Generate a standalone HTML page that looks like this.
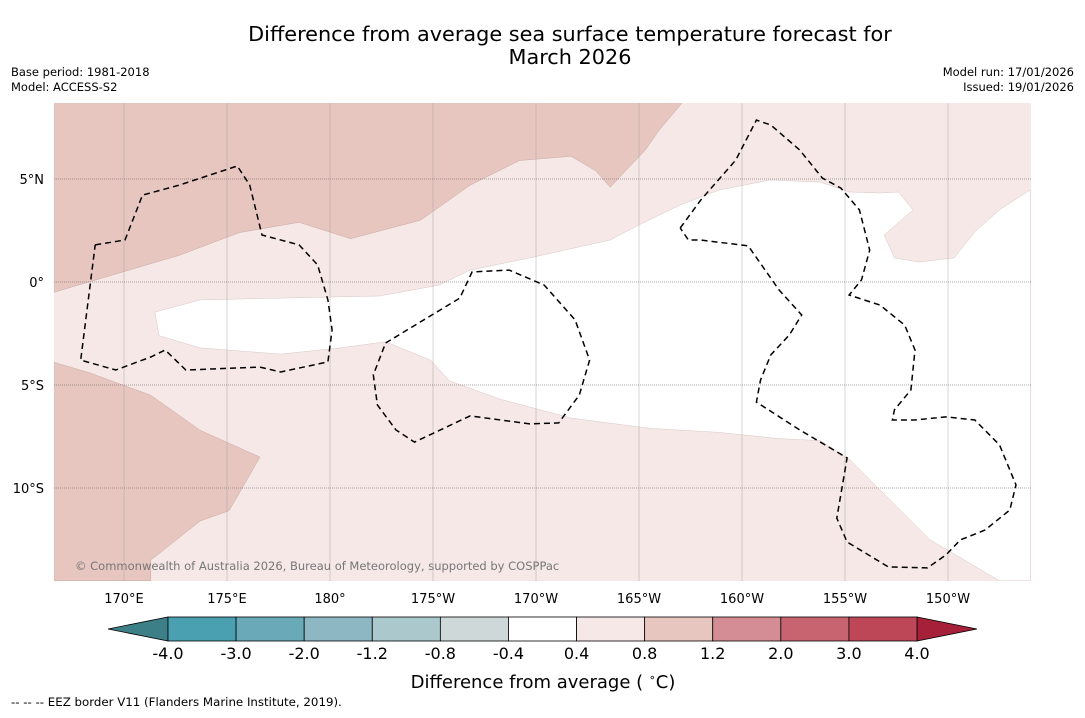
<!DOCTYPE html>
<html><head><meta charset="utf-8"><style>
body{margin:0;background:#fff;width:1085px;height:713px;overflow:hidden;font-family:"Liberation Sans",sans-serif}
svg text{font-family:"DejaVu Sans","Liberation Sans",sans-serif}
</style></head><body>
<svg id="chart" width="1085" height="713" xmlns="http://www.w3.org/2000/svg">
<text x="570" y="41" font-size="20.8" text-anchor="middle">Difference from average sea surface temperature forecast for</text>
<text x="570" y="64" font-size="20.8" text-anchor="middle">March 2026</text>
<text x="11" y="76" font-size="11.5">Base period: 1981-2018</text>
<text x="11" y="91" font-size="11.5">Model: ACCESS-S2</text>
<text x="1074" y="76" font-size="11.5" text-anchor="end">Model run: 17/01/2026</text>
<text x="1074" y="91" font-size="11.5" text-anchor="end">Issued: 19/01/2026</text>
<defs><clipPath id="mc"><rect x="54" y="103" width="977" height="478"/></clipPath></defs>
<g id="map" clip-path="url(#mc)"></g>
<g id="axes"></g>
<g id="cbar"></g>
<text x="543" y="688" font-size="18" text-anchor="middle">Difference from average ( <tspan font-size="11" dy="-7">∘</tspan><tspan dy="7">C)</tspan></text>
<text x="11" y="706" font-size="11.8">--  --  -- EEZ border V11 (Flanders Marine Institute, 2019).</text>
</svg>
<script>
// Colour-scale data
const levels = [-4.0,-3.0,-2.0,-1.2,-0.8,-0.4,0.4,0.8,1.2,2.0,3.0,4.0];
const levelColors = ["#4aa0b0","#6aaab8","#8db8c3","#abc8cc","#cfd8d9","#ffffff","#f5e8e6","#e8c6c0","#d48d94","#c76470","#bd4756"];
const underColor = "#3d7f87", overColor = "#a6203a";
// Axis ticks
const lonTicks = [170,175,180,185,190,195,200,205,210];
const lonLabels = ["170°E","175°E","180°","175°W","170°W","165°W","160°W","155°W","150°W"];
const latTicks = [5,0,-5,-10];
const latLabels = ["5°N","0°","5°S","10°S"];
// Anomaly regions [lon,lat]
const regionNorthWarm = [[166.6,8.7],[197.1,8.7],[196.0,7.4],[195.3,6.4],[193.6,4.6],[192.9,5.4],[191.7,6.1],[189.2,5.9],[186.8,4.7],[184.4,3.0],[181.0,2.1],[178.5,2.9],[175.6,2.4],[172.7,1.3],[166.6,-0.5]];
const regionSouthWarm = [[166.6,-3.9],[168.3,-4.4],[171.3,-5.5],[173.7,-7.2],[176.6,-8.5],[175.1,-11.1],[173.7,-11.6],[171.3,-13.5],[171.3,-14.5],[166.6,-14.5]];
const regionNeutral = [[171.5,-1.46],[173.7,-0.87],[177.6,-0.78],[182.4,-0.68],[185.3,-0.15],[186.8,0.58],[189.7,1.17],[193.6,2.04],[195.0,2.77],[197.0,3.74],[198.9,4.47],[201.4,4.95],[203.8,4.85],[205.2,4.37],[206.7,4.32],[207.6,4.37],[208.3,3.5],[206.9,2.28],[207.4,1.17],[208.6,0.97],[210.3,1.17],[211.3,2.43],[212.5,3.5],[214.0,4.47],[214.0,-14.5],[212.5,-14.5],[209.1,-12.5],[206.7,-10.1],[205.2,-8.6],[203.8,-7.7],[201.8,-7.6],[198.9,-7.3],[195.5,-7.1],[191.7,-6.6],[188.3,-5.7],[185.8,-4.8],[184.9,-3.8],[182.7,-2.9],[180.5,-3.2],[177.6,-3.5],[173.7,-3.2],[171.7,-2.6]];
// EEZ borders
const eezTuvalu = [[168.6,1.8],[170.05,2.04],[170.9,4.22],[172.7,4.71],[175.5,5.63],[176.1,4.71],[176.7,2.28],[178.5,1.8],[179.4,0.83],[179.9,-0.87],[180.1,-2.33],[179.9,-3.88],[177.6,-4.37],[176.6,-4.13],[173.0,-4.27],[172.0,-3.3],[171.3,-3.64],[169.6,-4.27],[167.9,-3.79],[168.6,1.8]];
const eezPhoenix = [[182.7,-2.96],[186.3,-0.78],[186.9,0.49],[188.7,0.58],[190.4,-0.15],[191.9,-1.84],[192.6,-3.79],[192.1,-5.49],[191.1,-6.84],[189.7,-6.89],[186.8,-6.5],[184.1,-7.77],[183.2,-7.18],[182.3,-5.97],[182.1,-4.51],[182.7,-2.96]];
const eezLine = [[197.0,2.62],[198.0,3.98],[199.7,5.92],[200.7,7.86],[201.4,7.62],[202.8,6.41],[203.9,5.05],[204.8,4.56],[205.7,3.5],[206.2,1.55],[205.8,0.1],[205.2,-0.63],[206.7,-1.12],[207.9,-2.09],[208.4,-3.3],[208.2,-5.24],[207.4,-6.21],[207.3,-6.7],[208.4,-6.7],[209.9,-6.55],[211.3,-6.7],[212.5,-7.91],[213.3,-9.85],[213.0,-11.07],[211.8,-12.04],[210.6,-12.52],[209.9,-13.25],[209.0,-13.88],[207.1,-13.83],[205.1,-12.62],[204.6,-11.46],[205.1,-8.54],[202.8,-7.18],[200.7,-5.83],[200.9,-4.76],[201.4,-3.54],[202.3,-2.57],[202.9,-1.6],[201.8,-0.39],[200.3,1.75],[198.0,2.04],[197.4,2.04],[197.0,2.62]];

const NS="http://www.w3.org/2000/svg";
const X = lon => 124 + (lon-170)*20.6;
const Y = lat => 282 - lat*20.6;
const pts = a => a.map(p=>X(p[0]).toFixed(1)+","+Y(p[1]).toFixed(1)).join(" ");
function mk(tag, attrs, parent){const e=document.createElementNS(NS,tag);for(const k in attrs)e.setAttribute(k,attrs[k]);parent.appendChild(e);return e;}
const map=document.getElementById('map');
let e;
e=mk('rect',{x:54,y:103,width:977,height:478,fill:levelColors[6]},map);


e=mk('polygon',{points:pts(regionNorthWarm),fill:levelColors[7],stroke:"#c9a9a4","stroke-width":0.5},map);


e=mk('polygon',{points:pts(regionSouthWarm),fill:levelColors[7],stroke:"#c9a9a4","stroke-width":0.5},map);


e=mk('polygon',{points:pts(regionNeutral),fill:levelColors[5],stroke:"#d8c8c6","stroke-width":0.5},map);


lonTicks.forEach((l,i)=>{
  e=mk('line',{x1:X(l),x2:X(l),y1:103,y2:581,stroke:"#999","stroke-width":0.4},map);
  
  
});
latTicks.forEach(l=>{
  e=mk('line',{x1:54,x2:1031,y1:Y(l),y2:Y(l),stroke:"#555","stroke-width":0.6,"stroke-dasharray":"1,1"},map);
  
  
});
[eezTuvalu,eezPhoenix,eezLine].forEach(a=>{
  e=mk('polyline',{points:pts(a),fill:"none",stroke:"#000","stroke-width":1.5,"stroke-dasharray":"6,4"},map);
  
  
});
e=mk('text',{x:75,y:570,"font-size":11.5,fill:"#777"},map);
e.textContent="© Commonwealth of Australia 2026, Bureau of Meteorology, supported by COSPPac";


const axes=document.getElementById('axes');
lonTicks.forEach((l,i)=>{
  e=mk('text',{x:X(l),y:603,"font-size":13,"text-anchor":"middle"},axes);
  e.textContent=lonLabels[i];
  
  
});
latTicks.forEach((l,i)=>{
  e=mk('text',{x:44,y:Y(l)+5,"font-size":13,"text-anchor":"end"},axes);
  e.textContent=latLabels[i];
  
  
});
// colourbar
const cb=document.getElementById('cbar');
const cx0=168, cx1=917, cy=617, ch=24;
const sw=(cx1-cx0)/levelColors.length;
e=mk('polygon',{points:`108,${cy+ch/2} ${cx0},${cy} ${cx0},${cy+ch}`,fill:underColor,stroke:"#000","stroke-width":0.8},cb);


e=mk('polygon',{points:`977,${cy+ch/2} ${cx1},${cy} ${cx1},${cy+ch}`,fill:overColor,stroke:"#000","stroke-width":0.8},cb);


levelColors.forEach((c,i)=>{
  e=mk('rect',{x:cx0+i*sw,y:cy,width:sw,height:ch,fill:c,stroke:"#000","stroke-width":0.8},cb);
  
  
});
levels.forEach((v,i)=>{
  e=mk('text',{x:cx0+i*sw,y:659,"font-size":16,"text-anchor":"middle"},cb);
  e.textContent=v.toFixed(1);
  
  
});
</script>
</body></html>
